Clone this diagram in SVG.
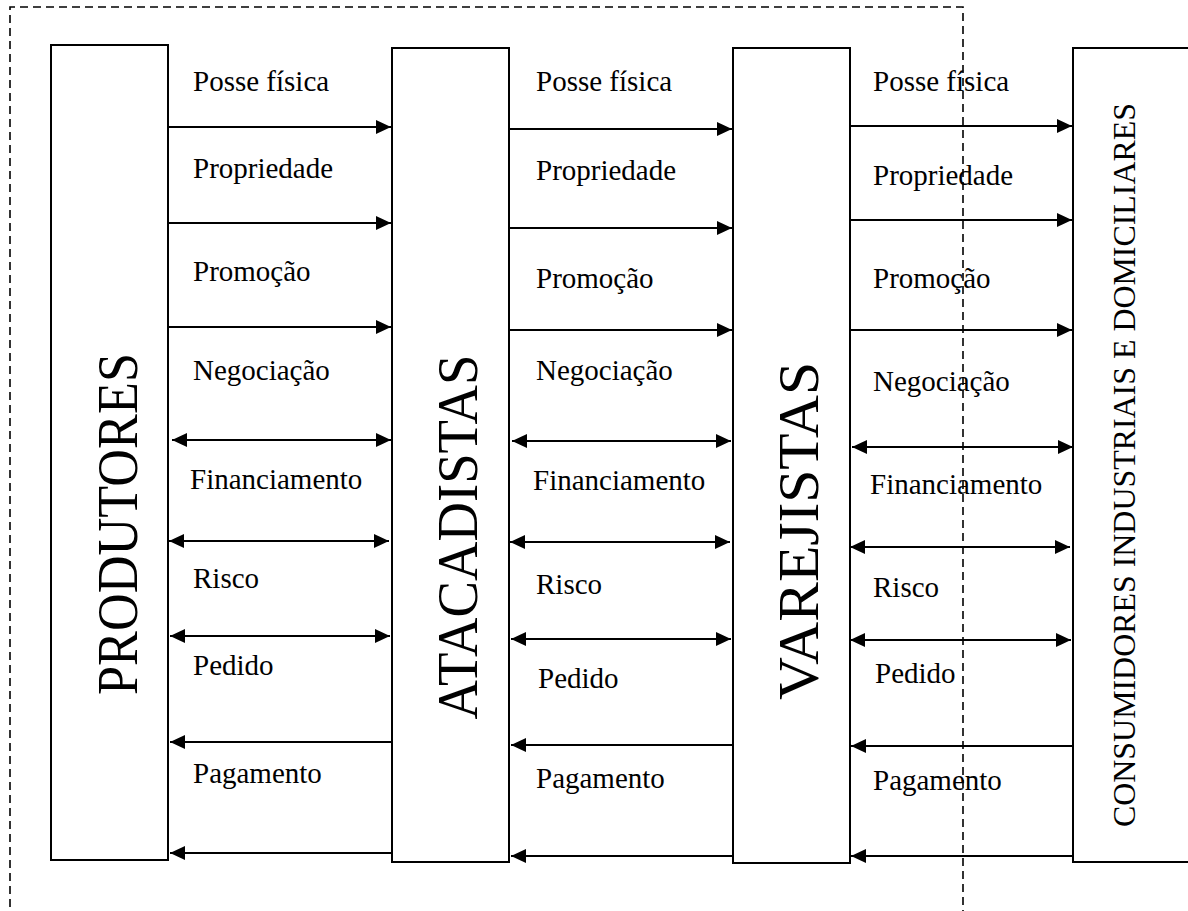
<svg xmlns="http://www.w3.org/2000/svg" width="1188" height="911" viewBox="0 0 1188 911">
  <style>
    .box { fill: #fff; stroke: #000; stroke-width: 2; }
    .frame { fill: none; stroke: #000; stroke-width: 1.6; stroke-dasharray: 8 5; }
    .flow { stroke: #000; stroke-width: 2; fill: none; }
    .fwd { marker-end: url(#head); }
    .back { marker-end: url(#head); }
    .both { marker-start: url(#head); marker-end: url(#head); }
    text { font-family: "Liberation Serif", serif; fill: #000; }
    .lbl { font-size: 29px; }
    .big { font-size: 56px; text-anchor: middle; }
    .side { font-size: 32px; text-anchor: middle; }
  </style>
  <defs>
    <marker id="head" markerUnits="userSpaceOnUse" markerWidth="16" markerHeight="16" refX="15" refY="7" orient="auto-start-reverse" viewBox="0 0 16 14">
      <path d="M0,0 L15,7 L0,14 Z" fill="#000"/>
    </marker>
  </defs>

  <rect width="1188" height="911" fill="#fff"/>

  <!-- dashed boundary (open at the bottom) -->
  <path class="frame" d="M10,920 L10,7 L963,7 L963,920"/>

  <!-- channel members -->
  <g id="produtores">
    <rect class="box" x="51" y="45" width="117" height="815"/>
    <text class="big" transform="translate(137,524) rotate(-90)" textLength="342" lengthAdjust="spacingAndGlyphs">PRODUTORES</text>
  </g>
  <g id="atacadistas">
    <rect class="box" x="392" y="48" width="117" height="814"/>
    <text class="big" transform="translate(477,537) rotate(-90)" textLength="365" lengthAdjust="spacingAndGlyphs">ATACADISTAS</text>
  </g>
  <g id="varejistas">
    <rect class="box" x="733" y="48" width="117" height="815"/>
    <text class="big" transform="translate(818,531) rotate(-90)" textLength="338" lengthAdjust="spacingAndGlyphs">VAREJISTAS</text>
  </g>
  <g id="consumidores">
    <rect class="box" x="1073" y="48" width="130" height="814"/>
    <text class="side" transform="translate(1135,465) rotate(-90)" textLength="724" lengthAdjust="spacingAndGlyphs">CONSUMIDORES INDUSTRIAIS E DOMICILIARES</text>
  </g>

  <!-- flows between members -->
  <g id="connectors">
    <!-- produtores / atacadistas -->
    <line class="flow fwd" x1="168" y1="127" x2="391" y2="127"/>
    <line class="flow fwd" x1="168" y1="223" x2="391" y2="223"/>
    <line class="flow fwd" x1="168" y1="327" x2="391" y2="327"/>
    <line class="flow both" x1="172" y1="440" x2="391" y2="440"/>
    <line class="flow both" x1="169" y1="541" x2="389" y2="541"/>
    <line class="flow both" x1="170" y1="636" x2="390" y2="636"/>
    <line class="flow back" x1="392" y1="742" x2="170" y2="742"/>
    <line class="flow back" x1="392" y1="853" x2="170" y2="853"/>

    <!-- atacadistas / varejistas -->
    <line class="flow fwd" x1="509" y1="129" x2="732" y2="129"/>
    <line class="flow fwd" x1="509" y1="228" x2="732" y2="228"/>
    <line class="flow fwd" x1="509" y1="330" x2="732" y2="330"/>
    <line class="flow both" x1="512" y1="441" x2="731" y2="441"/>
    <line class="flow both" x1="510" y1="542" x2="730" y2="542"/>
    <line class="flow both" x1="511" y1="639" x2="731" y2="639"/>
    <line class="flow back" x1="733" y1="745" x2="511" y2="745"/>
    <line class="flow back" x1="733" y1="856" x2="511" y2="856"/>

    <!-- varejistas / consumidores -->
    <line class="flow fwd" x1="850" y1="126" x2="1072" y2="126"/>
    <line class="flow fwd" x1="850" y1="220" x2="1072" y2="220"/>
    <line class="flow fwd" x1="850" y1="330" x2="1072" y2="330"/>
    <line class="flow both" x1="852" y1="447" x2="1073" y2="447"/>
    <line class="flow both" x1="850" y1="547" x2="1070" y2="547"/>
    <line class="flow both" x1="850" y1="640" x2="1071" y2="640"/>
    <line class="flow back" x1="1073" y1="746" x2="851" y2="746"/>
    <line class="flow back" x1="1073" y1="856" x2="851" y2="856"/>
  </g>

  <!-- flow labels -->
  <g id="labels-1">
    <text class="lbl" x="193" y="91">Posse física</text>
    <text class="lbl" x="193" y="178">Propriedade</text>
    <text class="lbl" x="193" y="281">Promoção</text>
    <text class="lbl" x="193" y="380">Negociação</text>
    <text class="lbl" x="190" y="489">Financiamento</text>
    <text class="lbl" x="193" y="588">Risco</text>
    <text class="lbl" x="193" y="675">Pedido</text>
    <text class="lbl" x="193" y="783">Pagamento</text>
  </g>
  <g id="labels-2">
    <text class="lbl" x="536" y="91">Posse física</text>
    <text class="lbl" x="536" y="180">Propriedade</text>
    <text class="lbl" x="536" y="288">Promoção</text>
    <text class="lbl" x="536" y="380">Negociação</text>
    <text class="lbl" x="533" y="490">Financiamento</text>
    <text class="lbl" x="536" y="594">Risco</text>
    <text class="lbl" x="538" y="688">Pedido</text>
    <text class="lbl" x="536" y="788">Pagamento</text>
  </g>
  <g id="labels-3">
    <text class="lbl" x="873" y="91">Posse física</text>
    <text class="lbl" x="873" y="185">Propriedade</text>
    <text class="lbl" x="873" y="288">Promoção</text>
    <text class="lbl" x="873" y="391">Negociação</text>
    <text class="lbl" x="870" y="494">Financiamento</text>
    <text class="lbl" x="873" y="597">Risco</text>
    <text class="lbl" x="875" y="683">Pedido</text>
    <text class="lbl" x="873" y="790">Pagamento</text>
  </g>
</svg>
